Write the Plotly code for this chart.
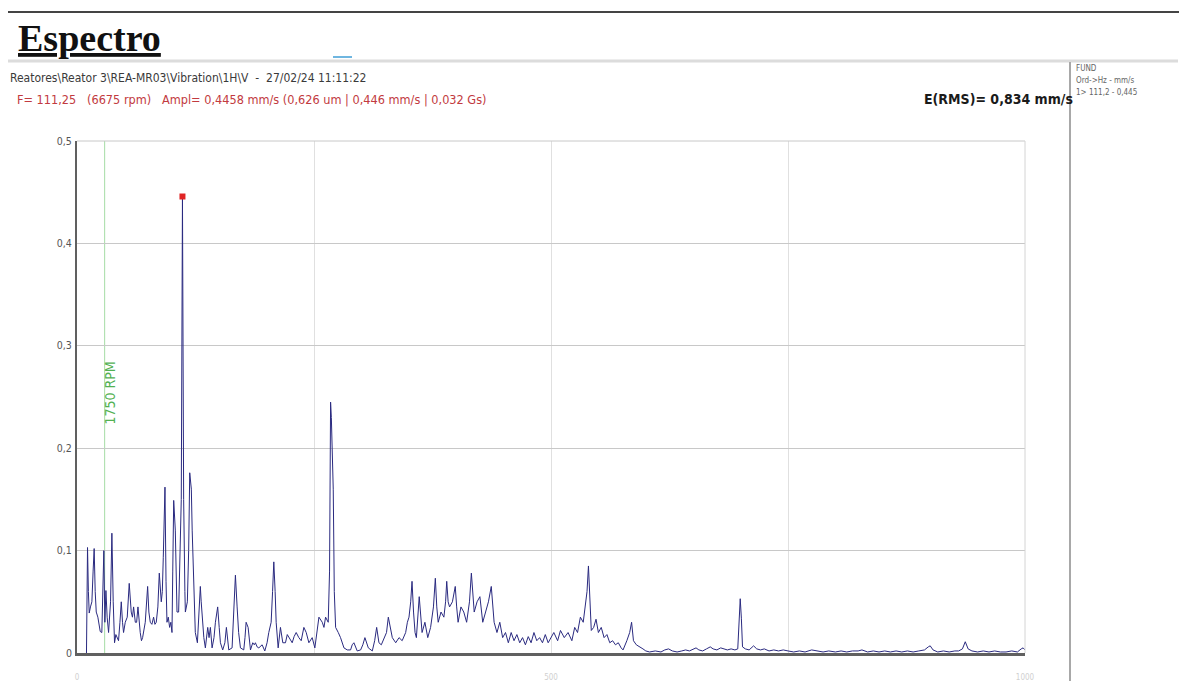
import plotly.graph_objects as go

# ---------------- data ----------------
freq_hz = [
    10.0, 10.6, 11.1, 12.0, 12.9, 14.2, 15.7, 17.0, 18.1, 19.2, 20.3, 22.0, 23.2, 24.5, 26.2, 27.4, 28.3, 29.4,
    30.5, 31.8, 33.3, 35.4, 36.8, 38.2, 39.6, 41.0, 42.1, 43.8, 45.3, 46.7, 48.0, 49.1, 50.9, 53.0, 55.1, 56.2,
    57.2, 58.5, 59.7, 61.5, 62.9, 64.3, 65.5, 66.7, 68.0, 69.2, 72.0, 73.3, 74.5, 75.8, 77.3, 79.0, 80.8, 82.2,
    83.6, 85.3, 86.8, 88.9, 90.0, 91.0, 92.8, 93.9, 94.9, 96.3, 97.7, 99.0, 100.2, 101.0, 102.0, 103.7, 104.6,
    105.5, 107.2, 108.3, 110.0, 111.25, 112.5, 113.8, 114.3, 116.4, 117.8, 118.9, 120.0, 120.6, 121.5, 122.4,
    123.6, 124.8, 127.0, 129.1, 130.1, 131.0, 132.2, 133.8, 135.4, 137.9, 139.3, 140.7, 142.5, 144.5, 146.0,
    148.4, 150.0, 151.3, 153.7, 156.0, 157.6, 159.0, 160.1, 163.6, 165.7, 167.1, 168.9, 170.5, 172.4, 175.9,
    177.2, 178.4, 180.5, 183.0, 185.4, 187.0, 188.2, 190.0, 191.8, 195.3, 198.1, 200.5, 202.3, 204.8, 206.3,
    207.6, 209.0, 210.1, 212.2, 214.6, 217.1, 219.9, 221.8, 223.5, 225.0, 227.0, 229.0, 231.2, 234.0, 236.5,
    239.3, 241.8, 244.6, 248.1, 250.9, 253.0, 255.2, 258.7, 260.5, 262.2, 265.0, 266.4, 267.5, 268.3, 269.2,
    270.3, 271.4, 272.8, 275.6, 278.0, 281.6, 285.1, 288.6, 290.3, 292.1, 295.6, 299.2, 301.5, 303.7, 305.5,
    307.3, 311.5, 314.0, 316.1, 318.5, 321.0, 323.8, 326.5, 328.4, 330.5, 332.6, 336.2, 339.7, 343.0, 346.7,
    348.5, 350.2, 352.0, 353.4, 355.0, 356.6, 358.0, 361.0, 364.0, 367.0, 370.0, 373.0, 376.0, 378.0, 379.5,
    381.0, 384.0, 387.0, 388.8, 390.0, 391.5, 393.0, 396.0, 399.0, 400.5, 402.0, 405.0, 408.0, 411.0, 414.0,
    416.0, 417.5, 419.0, 422.0, 425.0, 428.0, 431.0, 434.0, 437.0, 438.5, 440.0, 443.0, 446.0, 449.0, 452.0,
    455.0, 458.0, 461.0, 464.0, 467.0, 470.0, 473.0, 476.0, 479.0, 482.0, 485.0, 488.0, 491.0, 494.0, 497.0,
    500.0, 503.0, 507.0, 510.0, 514.0, 518.0, 522.0, 525.0, 528.0, 531.0, 534.0, 536.0, 538.0, 539.5, 541.0,
    542.5, 545.0, 547.5, 550.0, 553.0, 556.0, 559.0, 562.0, 565.0, 568.0, 571.0, 574.0, 576.0, 580.0, 583.0,
    585.0, 587.0, 590.0, 594.0, 597.0, 600.0, 604.0, 610.0, 616.0, 620.0, 624.0, 628.0, 633.0, 638.0, 642.0,
    646.0, 650.0, 653.0, 656.0, 660.0, 664.0, 668.0, 671.0, 675.0, 679.0, 682.0, 686.0, 690.0, 694.0, 697.0,
    698.5, 699.6, 700.8, 702.0, 705.0, 709.0, 713.7, 717.0, 721.0, 725.0, 730.0, 735.0, 740.0, 745.0, 750.0,
    756.0, 762.0, 768.0, 775.0, 781.0, 787.0, 793.0, 800.0, 806.0, 812.0, 818.0, 824.0, 828.0, 834.0, 840.0,
    846.0, 852.0, 858.0, 864.0, 870.0, 876.0, 882.0, 888.0, 894.0, 898.0, 900.0, 903.0, 908.0, 914.0, 920.0,
    926.0, 930.0, 934.0, 937.0, 940.0, 944.0, 950.0, 956.0, 962.0, 968.0, 974.0, 980.0, 986.0, 992.0, 996.0,
    998.0, 1000.0,
]
amp_mm_s = [
    0.000, 0.060, 0.103, 0.060, 0.039, 0.045, 0.050, 0.080, 0.102, 0.060, 0.040, 0.035, 0.028, 0.021, 0.020, 0.060, 0.100, 0.030,
    0.061, 0.035, 0.020, 0.050, 0.117, 0.050, 0.010, 0.018, 0.015, 0.012, 0.030, 0.050, 0.030, 0.020, 0.030, 0.035, 0.068, 0.050,
    0.040, 0.035, 0.045, 0.030, 0.030, 0.045, 0.030, 0.020, 0.012, 0.015, 0.030, 0.045, 0.065, 0.040, 0.030, 0.028, 0.035, 0.028,
    0.030, 0.045, 0.078, 0.050, 0.060, 0.093, 0.162, 0.070, 0.030, 0.035, 0.025, 0.030, 0.020, 0.080, 0.149, 0.120, 0.070,
    0.040, 0.040, 0.100, 0.150, 0.4458, 0.150, 0.060, 0.040, 0.050, 0.100, 0.176, 0.165, 0.160, 0.120, 0.090,
    0.050, 0.020, 0.010, 0.040, 0.065, 0.050, 0.030, 0.015, 0.005, 0.025, 0.015, 0.025, 0.005, 0.015, 0.030,
    0.045, 0.025, 0.010, 0.003, 0.010, 0.025, 0.010, 0.003, 0.005, 0.040, 0.076, 0.045, 0.020, 0.005, 0.003,
    0.015, 0.030, 0.025, 0.003, 0.010, 0.008, 0.010, 0.006, 0.005, 0.008, 0.002, 0.010, 0.020, 0.030, 0.060,
    0.089, 0.060, 0.030, 0.005, 0.025, 0.010, 0.010, 0.018, 0.015, 0.012, 0.010, 0.016, 0.020, 0.015, 0.012,
    0.025, 0.020, 0.010, 0.015, 0.005, 0.020, 0.035, 0.030, 0.025, 0.035, 0.030, 0.080, 0.245, 0.230, 0.190,
    0.160, 0.060, 0.025, 0.020, 0.015, 0.005, 0.003, 0.003, 0.008, 0.010, 0.002, 0.003, 0.008, 0.015, 0.010,
    0.005, 0.002, 0.012, 0.025, 0.010, 0.008, 0.015, 0.020, 0.035, 0.025, 0.015, 0.010, 0.015, 0.012, 0.020,
    0.030, 0.035, 0.050, 0.070, 0.040, 0.020, 0.015, 0.055, 0.020, 0.030, 0.015, 0.025, 0.045, 0.073, 0.045,
    0.030, 0.040, 0.035, 0.050, 0.070, 0.050, 0.045, 0.050, 0.065, 0.045, 0.030, 0.045, 0.040, 0.030, 0.050,
    0.078, 0.055, 0.040, 0.050, 0.055, 0.030, 0.040, 0.050, 0.065, 0.045, 0.030, 0.020, 0.030, 0.015, 0.020,
    0.010, 0.020, 0.012, 0.018, 0.010, 0.015, 0.008, 0.016, 0.010, 0.020, 0.012, 0.015, 0.010, 0.018, 0.010,
    0.015, 0.020, 0.012, 0.022, 0.015, 0.020, 0.012, 0.025, 0.020, 0.035, 0.030, 0.045, 0.060, 0.085, 0.050,
    0.022, 0.025, 0.033, 0.020, 0.025, 0.015, 0.018, 0.010, 0.012, 0.008, 0.010, 0.005, 0.003, 0.012, 0.020,
    0.030, 0.012, 0.008, 0.006, 0.004, 0.002, 0.001, 0.002, 0.001, 0.003, 0.004, 0.002, 0.001, 0.002, 0.003,
    0.002, 0.004, 0.005, 0.003, 0.002, 0.004, 0.006, 0.004, 0.003, 0.005, 0.004, 0.003, 0.004, 0.003, 0.004,
    0.032, 0.053, 0.034, 0.006, 0.004, 0.003, 0.007, 0.004, 0.003, 0.004, 0.002, 0.003, 0.002, 0.003, 0.002,
    0.001, 0.002, 0.001, 0.003, 0.002, 0.001, 0.002, 0.001, 0.002, 0.001, 0.002, 0.002, 0.003, 0.001, 0.002,
    0.001, 0.002, 0.001, 0.002, 0.001, 0.002, 0.001, 0.002, 0.003, 0.006, 0.007, 0.003, 0.001, 0.002, 0.001,
    0.002, 0.002, 0.004, 0.011, 0.004, 0.002, 0.001, 0.002, 0.001, 0.002, 0.001, 0.001, 0.002, 0.001, 0.004,
    0.005, 0.003,
]

cursor_freq = [111.25]
cursor_amp = [0.4458]
rpm_line_hz = 1750 / 60.0
rpm_label = "1750 RPM"

y_tickvals = [0, 0.1, 0.2, 0.3, 0.4, 0.5]
y_ticktext = ["0", "0,1", "0,2", "0,3", "0,4", "0,5"]
x_tickvals = [0, 250, 500, 750, 1000]
x_ticktext = ["0", "", "500", "", "1000"]

title_text = "Espectro"
header_path = "Reatores\\Reator 3\\REA-MR03\\Vibration\\1H\\V  -  27/02/24 11:11:22"
header_cursor = "F= 111,25   (6675 rpm)   Ampl= 0,4458 mm/s (0,626 um | 0,446 mm/s | 0,032 Gs)"
rms_text = "E(RMS)= 0,834 mm/s"
panel_lines = ["FUND", "Ord->Hz - mm/s", "1> 111,2 - 0,445"]

# ---------------- layout geometry ----------------
# page body has an 8px margin; figure coordinates are page coordinates minus OFF
OFF = 8
PAGE_W, PAGE_H = 1187, 689
W, H = PAGE_W - 2 * OFF, PAGE_H - 2 * OFF
L, R, T, B = 77 - OFF, 1025 - OFF, 141 - OFF, 653 - OFF


def P(xpage, ypage):
    fx, fy = xpage - OFF, ypage - OFF
    return (fx - L) / (R - L), (B - fy) / (B - T)


NARROW = "Liberation Sans Narrow, Arial Narrow, DejaVu Sans Condensed, Roboto Condensed, sans-serif"


def nb(s):
    return s.replace("  ", "\u00a0\u00a0")


fig = go.Figure()
fig.add_trace(go.Scatter(x=freq_hz, y=amp_mm_s, mode="lines",
                         line=dict(color="#2a2a80", width=1), hoverinfo="skip"))
fig.add_trace(go.Scatter(x=cursor_freq, y=cursor_amp, mode="markers",
                         marker=dict(symbol="square", size=6, color="#e02424"), hoverinfo="skip"))

shapes = []
shapes.append(dict(type="line", xref="x", yref="y", x0=rpm_line_hz, x1=rpm_line_hz, y0=0, y1=0.5,
                   line=dict(color="#a6dca6", width=1), layer="below"))
shapes.append(dict(type="line", xref="paper", yref="paper", x0=0, x1=1, y0=1, y1=1,
                   line=dict(color="#c8c8c8", width=1)))
shapes.append(dict(type="line", xref="paper", yref="paper", x0=1, x1=1, y0=0, y1=1,
                   line=dict(color="#d4d4d4", width=1)))
x0, y0 = P(OFF, 12); x1, _ = P(PAGE_W - OFF, 12)
shapes.append(dict(type="line", xref="paper", yref="paper", x0=x0, x1=x1, y0=y0, y1=y0,
                   line=dict(color="#444444", width=2)))
x0, y0 = P(OFF, 61); x1, _ = P(1178, 61)
shapes.append(dict(type="line", xref="paper", yref="paper", x0=x0, x1=x1, y0=y0, y1=y0,
                   line=dict(color="#dcdcdc", width=3)))
x0, y0 = P(333, 57); x1, _ = P(352, 57)
shapes.append(dict(type="line", xref="paper", yref="paper", x0=x0, x1=x1, y0=y0, y1=y0,
                   line=dict(color="#6fb6e0", width=2)))
x0, y0 = P(1070, 62); _, y1 = P(1070, PAGE_H - OFF)
shapes.append(dict(type="line", xref="paper", yref="paper", x0=x0, x1=x0, y0=y0, y1=y1,
                   line=dict(color="#a8a8a8", width=2)))

ann = []
ax, ay = P(16, 38)
ann.append(dict(xref="paper", yref="paper", x=ax, y=ay, xanchor="left", yanchor="middle", showarrow=False,
                text="<b><u>" + title_text + "</u></b>",
                font=dict(family="Liberation Serif, Times New Roman, serif", size=38, color="#111111")))
ax, ay = P(8, 78)
ann.append(dict(xref="paper", yref="paper", x=ax, y=ay, xanchor="left", yanchor="middle", showarrow=False,
                text=nb(header_path), font=dict(family=NARROW, size=12, color="#3a3a3a")))
ax, ay = P(15, 99)
ann.append(dict(xref="paper", yref="paper", x=ax, y=ay, xanchor="left", yanchor="middle", showarrow=False,
                text=nb(header_cursor), font=dict(family=NARROW, size=12.6, color="#c23a40")))
ax, ay = P(1075, 99)
ann.append(dict(xref="paper", yref="paper", x=ax, y=ay, xanchor="right", yanchor="middle", showarrow=False,
                text="<b>" + rms_text + "</b>", font=dict(family=NARROW, size=14, color="#1a1a1a")))
for i, t in enumerate(panel_lines):
    ax, ay = P(1074, 68 + 12 * i)
    ann.append(dict(xref="paper", yref="paper", x=ax, y=ay, xanchor="left", yanchor="middle", showarrow=False,
                    text=t, font=dict(family=NARROW, size=8, color="#666666")))
ann.append(dict(xref="x", yref="y", x=rpm_line_hz, y=0.254, xanchor="left", yanchor="middle", xshift=-5,
                showarrow=False, text=rpm_label, textangle=-90,
                font=dict(family=NARROW, size=14, color="#52b152")))

fig.update_layout(
    width=W, height=H,
    margin=dict(l=L, r=W - R, t=T, b=H - B, pad=0, autoexpand=False),
    paper_bgcolor="white", plot_bgcolor="white",
    showlegend=False,
    shapes=shapes, annotations=ann,
    xaxis=dict(range=[0, 1000], tickvals=x_tickvals, ticktext=x_ticktext,
               showgrid=True, gridcolor="#e0e0e0", gridwidth=1,
               zeroline=False, showline=True, linecolor="#606060", linewidth=3,
               ticks="", ticklabelstandoff=14, automargin=False,
               tickfont=dict(family=NARROW, size=8, color="#d0d0d0"), fixedrange=True),
    yaxis=dict(range=[0, 0.5], tickvals=y_tickvals, ticktext=y_ticktext,
               showgrid=True, gridcolor="#c8c8c8", gridwidth=1,
               zeroline=False, showline=True, linecolor="#606060", linewidth=2,
               ticks="", ticklabelstandoff=1, automargin=False,
               tickfont=dict(family=NARROW, size=10.5, color="#555555"), fixedrange=True),
)

fig.write_html("out.html")
